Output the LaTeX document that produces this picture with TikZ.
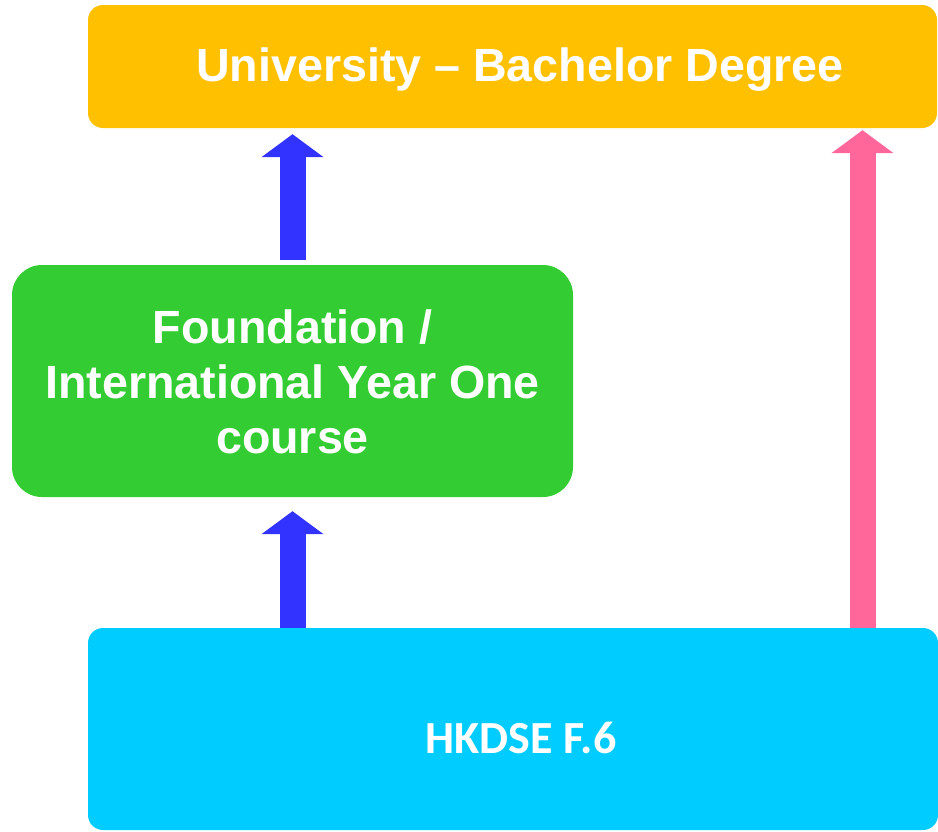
\documentclass[tikz,border=0pt]{standalone}
\usepackage{fontspec}
\setmainfont{Liberation Sans}
\newfontfamily\carlito{Carlito}
\usepackage{xcolor}
\usepackage{tikz}
\usetikzlibrary{arrows.meta}

\definecolor{uniorange}{HTML}{FFC000}
\definecolor{fndgreen}{HTML}{33CC33}
\definecolor{hkcyan}{HTML}{00CCFF}
\definecolor{arrowblue}{HTML}{3333FF}
\definecolor{arrowpink}{HTML}{FF6699}

\tikzset{
  stagebox/.style={inner sep=0pt, rounded corners=15pt},
  stagetext/.style={text=white, font=\bfseries\fontsize{46.6}{55}\selectfont, align=center},
  bigarrow/.style={line width=26pt, -{Triangle[width=61pt,length=23pt]}},
}

\begin{document}
\begin{tikzpicture}[x=1pt,y=-1pt]
\useasboundingbox (0,0) rectangle (938,831);
\node[stagebox, fill=uniorange, minimum width=849pt, minimum height=123pt] (uni) at (512.5,66.5) {};
\node[stagebox, fill=fndgreen, rounded corners=30pt, minimum width=561pt, minimum height=232pt] (fnd) at (292.5,381) {};
\node[stagebox, fill=hkcyan, minimum width=850pt, minimum height=202pt] (hk) at (513,729) {};

\node[stagetext] (unitext) at ([xshift=7.5pt,yshift=-3pt]uni.center) {University -- Bachelor Degree};
\node[stagetext] (fndtext) at ([yshift=-1pt]fnd.center) {Foundation /\\International Year One\\course};
\node[stagetext, font=\carlito\bfseries\fontsize{46}{55}\selectfont] (hktext) at ([xshift=8pt,yshift=-9pt]hk.center) {HKDSE F.6};

\coordinate (pinkfoot) at (862.5,628);
\draw[bigarrow, arrowblue, shorten <=5pt, shorten >=6pt] (fnd.north) -- (fnd.north |- uni.south);
\draw[bigarrow, arrowblue, shorten >=14pt] (fnd.south |- hk.north) -- (fnd.south);
\draw[bigarrow, arrowpink, shorten >=2pt] (pinkfoot) -- (pinkfoot |- uni.south);
\end{tikzpicture}
\end{document}
